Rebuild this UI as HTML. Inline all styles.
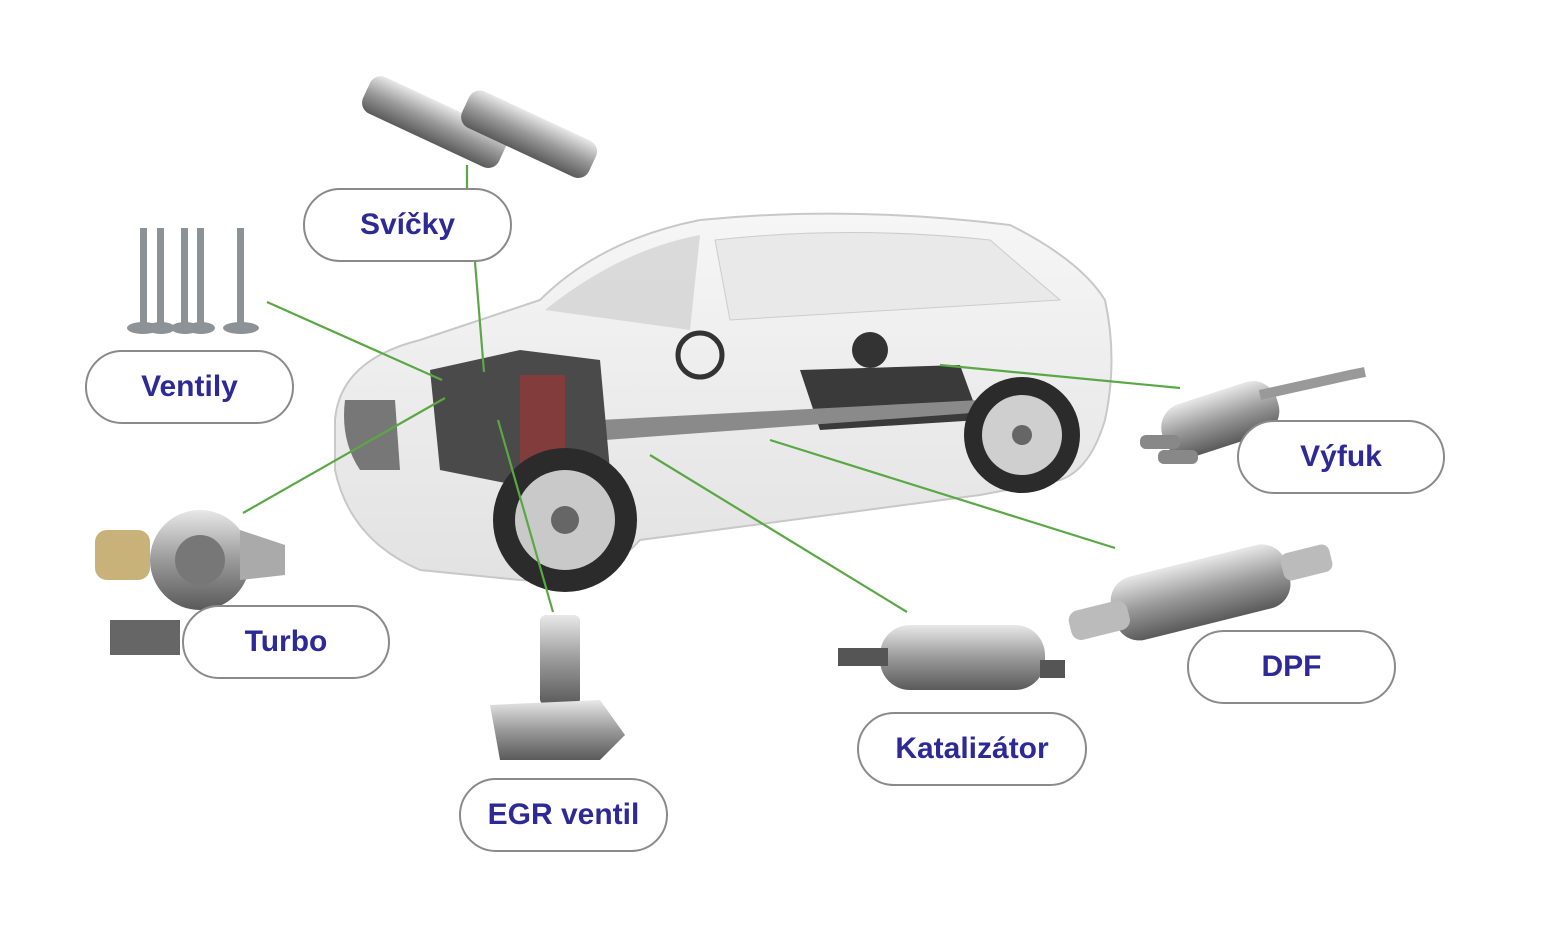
<!DOCTYPE html>
<html><head><meta charset="utf-8"><style>
html,body{margin:0;padding:0;background:#fff;}
body{width:1548px;height:936px;position:relative;overflow:hidden;font-family:"Liberation Sans",sans-serif;}
svg{position:absolute;left:0;top:0;}
.pill{position:absolute;border:2.5px solid #8a8a8a;border-radius:40px;background:#fff;box-sizing:border-box;display:flex;align-items:center;justify-content:center;color:#2d2a97;font-weight:bold;font-size:30px;}
</style></head><body>
<svg width="1548" height="936" viewBox="0 0 1548 936">
<defs>
<linearGradient id="m" x1="0" y1="0" x2="0" y2="1"><stop offset="0" stop-color="#e8e8e8"/><stop offset=".5" stop-color="#9a9a9a"/><stop offset="1" stop-color="#5a5a5a"/></linearGradient>
<linearGradient id="body" x1="0" y1="0" x2="0" y2="1"><stop offset="0" stop-color="#f6f6f6"/><stop offset="1" stop-color="#e2e2e2"/></linearGradient>
</defs>
<!-- car body -->
<path d="M335 420 Q340 360 420 340 L540 300 Q600 240 700 220 Q850 205 1010 225 Q1080 260 1105 300 Q1118 360 1105 420 Q1090 470 1060 480 L980 495 L640 540 Q600 585 520 580 L420 570 Q350 540 335 470 Z" fill="url(#body)" stroke="#c8c8c8" stroke-width="2"/>
<path d="M545 310 Q620 250 700 235 L690 330 Z" fill="#cfcfcf" opacity=".7"/>
<path d="M715 240 Q850 225 990 240 L1060 300 L730 320 Z" fill="#e9e9e9" stroke="#ccc"/>
<!-- interior -->
<path d="M800 370 L960 365 L980 420 L820 430 Z" fill="#3a3a3a"/>
<path d="M600 420 L980 400 L985 412 L605 440 Z" fill="#8a8a8a"/>
<circle cx="700" cy="355" r="22" fill="none" stroke="#333" stroke-width="5"/>
<circle cx="870" cy="350" r="18" fill="#333"/>
<!-- engine -->
<path d="M430 370 L520 350 L600 360 L610 470 L540 490 L440 470 Z" fill="#4a4a4a"/>
<rect x="520" y="375" width="45" height="90" fill="#a33" opacity=".6"/>
<path d="M345 400 Q340 440 360 470 L400 470 L395 400 Z" fill="#777"/>
<!-- wheels -->
<circle cx="565" cy="520" r="72" fill="#2b2b2b"/><circle cx="565" cy="520" r="50" fill="#c9c9c9"/><circle cx="565" cy="520" r="14" fill="#666"/>
<circle cx="1022" cy="435" r="58" fill="#2b2b2b"/><circle cx="1022" cy="435" r="40" fill="#cfcfcf"/><circle cx="1022" cy="435" r="10" fill="#666"/>
<!-- spark plugs -->
<g transform="rotate(25 430 120)"><rect x="360" y="100" width="150" height="40" rx="12" fill="url(#m)"/></g>
<g transform="rotate(25 520 130)"><rect x="460" y="110" width="140" height="40" rx="12" fill="url(#m)"/></g>
<!-- valves -->
<g fill="#8c9296">
<rect x="140" y="228" width="7" height="100"/><rect x="157" y="228" width="7" height="100"/><rect x="181" y="228" width="7" height="100"/><rect x="197" y="228" width="7" height="100"/><rect x="237" y="228" width="7" height="100"/>
<ellipse cx="143" cy="328" rx="16" ry="6"/><ellipse cx="161" cy="328" rx="14" ry="6"/><ellipse cx="185" cy="328" rx="14" ry="6"/><ellipse cx="201" cy="328" rx="14" ry="6"/><ellipse cx="241" cy="328" rx="18" ry="6"/>
</g>
<!-- turbo -->
<circle cx="200" cy="560" r="50" fill="url(#m)"/><circle cx="200" cy="560" r="25" fill="#777"/>
<rect x="95" y="530" width="55" height="50" rx="12" fill="#c9b27a"/>
<rect x="110" y="620" width="70" height="35" fill="#666"/>
<path d="M240 530 L285 545 L285 575 L240 580 Z" fill="#aaa"/>
<!-- EGR -->
<rect x="540" y="615" width="40" height="90" rx="6" fill="url(#m)"/>
<path d="M490 705 L600 700 L625 735 L600 760 L500 760 Z" fill="url(#m)"/>
<!-- catalyst -->
<rect x="880" y="625" width="165" height="65" rx="30" fill="url(#m)"/>
<rect x="838" y="648" width="50" height="18" fill="#555"/><rect x="1040" y="660" width="25" height="18" fill="#555"/>
<!-- DPF -->
<g transform="rotate(-14 1200 590)"><rect x="1110" y="560" width="180" height="65" rx="25" fill="url(#m)"/><rect x="1065" y="580" width="60" height="30" rx="10" fill="#bbb"/><rect x="1285" y="575" width="50" height="28" rx="8" fill="#bbb"/></g>
<!-- muffler -->
<g transform="rotate(-18 1210 420)"><rect x="1160" y="395" width="120" height="55" rx="25" fill="url(#m)"/></g>
<path d="M1260 395 L1350 375 L1365 372" stroke="#999" stroke-width="10" fill="none"/>
<rect x="1140" y="435" width="40" height="14" rx="6" fill="#888"/><rect x="1158" y="450" width="40" height="14" rx="6" fill="#888"/>
<!-- lines -->
<g stroke="#5aa845" stroke-width="2.2" fill="none">
<line x1="467" y1="165" x2="467" y2="188"/>
<line x1="475" y1="262" x2="484" y2="372"/>
<line x1="267" y1="302" x2="442" y2="380"/>
<line x1="243" y1="513" x2="445" y2="398"/>
<line x1="498" y1="420" x2="553" y2="612"/>
<line x1="650" y1="455" x2="907" y2="612"/>
<line x1="770" y1="440" x2="1115" y2="548"/>
<line x1="940" y1="365" x2="1180" y2="388"/>
</g>
</svg>
<div class="pill" style="left:303px;top:188px;width:209px;height:74px;">Svíčky</div>
<div class="pill" style="left:85px;top:350px;width:209px;height:74px;">Ventily</div>
<div class="pill" style="left:182px;top:605px;width:208px;height:74px;">Turbo</div>
<div class="pill" style="left:459px;top:778px;width:209px;height:74px;">EGR ventil</div>
<div class="pill" style="left:857px;top:712px;width:230px;height:74px;">Katalizátor</div>
<div class="pill" style="left:1187px;top:630px;width:209px;height:74px;">DPF</div>
<div class="pill" style="left:1237px;top:420px;width:208px;height:74px;">Výfuk</div>
</body></html>
